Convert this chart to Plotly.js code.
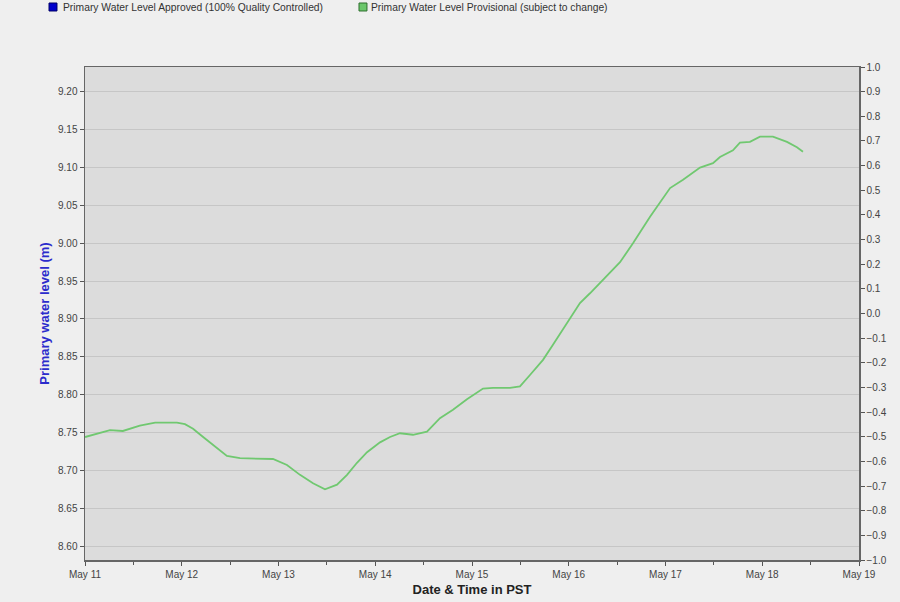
<!DOCTYPE html>
<html>
<head>
<meta charset="utf-8">
<script src="https://cdn.plot.ly/plotly-3.0.1.min.js"></script>
<style>html,body{margin:0;padding:0;background:#efefef;}#chart{width:900px;height:602px;}</style>
</head>
<body>
<div id="chart"></div>
<script>
// Data
const times = [
  "2023-05-11 00:00","2023-05-11 03:12","2023-05-11 06:12","2023-05-11 09:24","2023-05-11 13:36",
  "2023-05-11 17:24","2023-05-11 22:48","2023-05-12 00:48","2023-05-12 02:48","2023-05-12 05:18",
  "2023-05-12 08:15","2023-05-12 11:12","2023-05-12 14:27","2023-05-12 22:38","2023-05-13 02:06",
  "2023-05-13 05:20","2023-05-13 08:34","2023-05-13 11:32","2023-05-13 14:31","2023-05-13 17:00",
  "2023-05-13 19:28","2023-05-13 21:58","2023-05-14 01:11","2023-05-14 03:40","2023-05-14 06:08",
  "2023-05-14 09:22","2023-05-14 12:50","2023-05-14 16:03","2023-05-14 19:17","2023-05-14 22:45",
  "2023-05-15 02:44","2023-05-15 05:13","2023-05-15 09:26","2023-05-15 11:54","2023-05-15 14:23",
  "2023-05-15 17:37","2023-05-15 20:05","2023-05-16 00:19","2023-05-16 02:47","2023-05-16 05:16",
  "2023-05-16 08:29","2023-05-16 12:43","2023-05-16 15:56","2023-05-16 20:10","2023-05-17 01:08",
  "2023-05-17 04:21","2023-05-17 08:34","2023-05-17 11:47","2023-05-17 13:31","2023-05-17 16:44",
  "2023-05-17 18:28","2023-05-17 20:57","2023-05-17 23:26","2023-05-18 02:39","2023-05-18 06:08",
  "2023-05-18 08:36","2023-05-18 10:06"
];
const levels = [
  8.744,8.749,8.753,8.752,8.759,
  8.763,8.763,8.761,8.755,8.744,
  8.732,8.719,8.716,8.715,8.707,
  8.694,8.683,8.675,8.681,8.694,
  8.710,8.724,8.737,8.744,8.749,
  8.747,8.751,8.769,8.780,8.794,
  8.808,8.809,8.809,8.811,8.826,
  8.846,8.866,8.901,8.921,8.934,
  8.952,8.975,9.000,9.035,9.073,
  9.084,9.100,9.106,9.114,9.123,
  9.133,9.134,9.141,9.141,9.134,
  9.127,9.121
];
const seriesNames = ["Primary Water Level Approved (100% Quality Controlled)", "Primary Water Level Provisional (subject to change)"];
const leftTicks = [8.60,8.65,8.70,8.75,8.80,8.85,8.90,8.95,9.00,9.05,9.10,9.15,9.20];
const rightTicks = [-1.0,-0.9,-0.8,-0.7,-0.6,-0.5,-0.4,-0.3,-0.2,-0.1,0.0,0.1,0.2,0.3,0.4,0.5,0.6,0.7,0.8,0.9,1.0];

const FONT = "Liberation Sans, Arial, sans-serif";

const trace = {
  x: times, y: levels, type: "scatter", mode: "lines",
  line: {color: "#70c870", width: 1.8},
  name: seriesNames[1], showlegend: false, hoverinfo: "x+y"
};
// empty trace so that the secondary (right) axis is drawn
const axisTrace = {
  x: [], y: [], type: "scatter", mode: "lines", yaxis: "y2",
  name: seriesNames[0], showlegend: false, hoverinfo: "skip"
};

const layout = {
  width: 900, height: 602,
  paper_bgcolor: "#efefef", plot_bgcolor: "#dcdcdc",
  margin: {l: 85, r: 41, t: 67, b: 42},
  font: {family: FONT, size: 10, color: "#444"},
  showlegend: false,
  xaxis: {
    type: "date",
    range: ["2023-05-11 00:00", "2023-05-19 00:00"],
    dtick: 86400000, tick0: "2023-05-11",
    tickformat: "%b %d",
    ticks: "outside", ticklen: 4, tickcolor: "#555",
    minor: {dtick: 43200000, tick0: "2023-05-11", ticks: "outside", ticklen: 3, tickcolor: "#555", showgrid: false},
    showgrid: false, zeroline: false,
    showline: true, linecolor: "#666", linewidth: 1.5, mirror: true,
    tickfont: {family: FONT, size: 10, color: "#444"},
    title: {text: "<b>Date &amp; Time in PST</b>", font: {family: FONT, size: 13, color: "#222"}, standoff: 6}
  },
  yaxis: {
    range: [8.5815, 9.233],
    tickvals: leftTicks, tickformat: ".2f",
    ticks: "outside", ticklen: 4, tickcolor: "#555",
    showgrid: true, gridcolor: "#c6c6c6", gridwidth: 1, zeroline: false,
    showline: true, linecolor: "#666", linewidth: 1.5,
    tickfont: {family: FONT, size: 10, color: "#444"},
    title: {text: "<b>Primary water level (m)</b>", font: {family: FONT, size: 13, color: "#2b2bcc"}, standoff: 5}
  },
  yaxis2: {
    overlaying: "y", side: "right",
    range: [-1.0, 1.0],
    tickvals: rightTicks, tickformat: ".1f",
    ticks: "outside", ticklen: 4, tickcolor: "#555",
    showgrid: false, zeroline: false,
    showline: true, linecolor: "#666", linewidth: 1.5,
    tickfont: {family: FONT, size: 10, color: "#444"}
  },
  shapes: [
    {type: "rect", xref: "paper", yref: "paper", x0: -0.0465, x1: -0.0362, y0: 1.1136, y1: 1.1298, fillcolor: "#0000cc", line: {color: "#000066", width: 1}},
    {type: "rect", xref: "paper", yref: "paper", x0: 0.3540, x1: 0.3643, y0: 1.1136, y1: 1.1298, fillcolor: "#6cc76c", line: {color: "#2f6f2f", width: 1}}
  ],
  annotations: [
    {xref: "paper", yref: "paper", x: -0.0310, y: 1.1217, xanchor: "left", yanchor: "middle", showarrow: false, text: seriesNames[0], font: {family: FONT, size: 10.3, color: "#333"}},
    {xref: "paper", yref: "paper", x: 0.3670, y: 1.1217, xanchor: "left", yanchor: "middle", showarrow: false, text: seriesNames[1], font: {family: FONT, size: 10.3, color: "#333"}}
  ]
};

Plotly.newPlot("chart", [trace, axisTrace], layout, {displayModeBar: false, staticPlot: true});
</script>
</body>
</html>
